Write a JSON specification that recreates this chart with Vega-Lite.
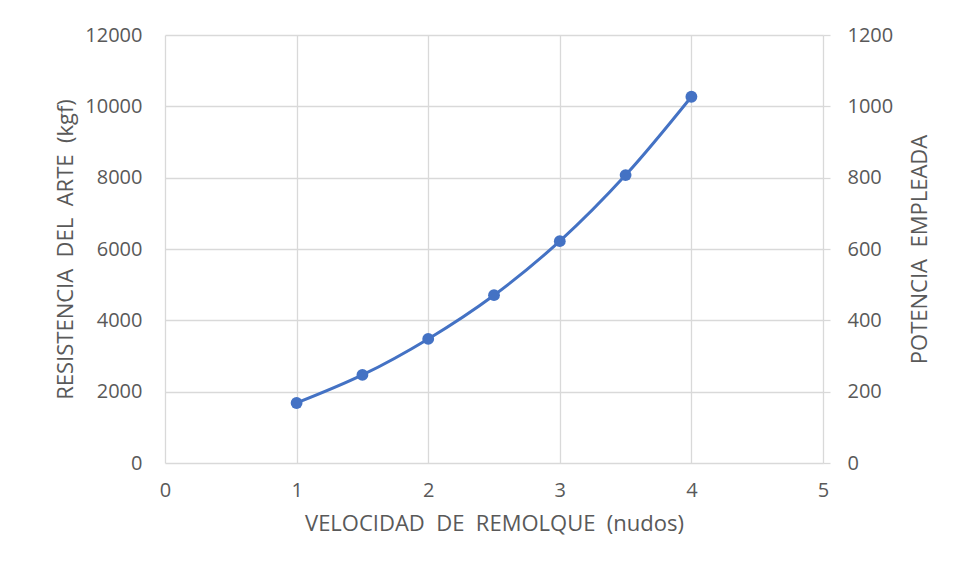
{
  "$schema": "https://vega.github.io/schema/vega-lite/v6.json",
  "autosize": "none",
  "width": 658,
  "height": 428,
  "padding": {"left": 165, "top": 35, "right": 133, "bottom": 114},
  "background": "white",
  "config": {
    "font": "Open Sans",
    "view": {"stroke": null},
    "axis": {
      "labelColor": "#595959",
      "titleColor": "#595959",
      "labelFontSize": 20,
      "titleFontSize": 22,
      "titleFontWeight": "normal",
      "labelFont": "Open Sans",
      "titleFont": "Open Sans",
      "gridColor": "#d9d9d9",
      "gridWidth": 1.3,
      "domain": false,
      "ticks": false
    }
  },
  "data": {
    "values": [
      {"velocidad": 1, "resistencia": 1683},
      {"velocidad": 1.5, "resistencia": 2469},
      {"velocidad": 2, "resistencia": 3479},
      {"velocidad": 2.5, "resistencia": 4705},
      {"velocidad": 3, "resistencia": 6220},
      {"velocidad": 3.5, "resistencia": 8072},
      {"velocidad": 4, "resistencia": 10269}
    ]
  },
  "layer": [
    {
      "encoding": {
        "x": {"field": "velocidad", "type": "quantitative", "scale": {"domain": [0, 5], "nice": false},
          "axis": {"title": "VELOCIDAD\u00a0 DE\u00a0 REMOLQUE\u00a0 (nudos)", "values": [0, 1, 2, 3, 4, 5], "format": "d", "labelFlush": false, "labelPadding": 17, "titlePadding": 13}},
        "y": {"field": "resistencia", "type": "quantitative", "scale": {"domain": [0, 12000], "nice": false},
          "axis": {"title": "RESISTENCIA\u00a0 DEL\u00a0 ARTE\u00a0 (kgf)", "values": [0, 2000, 4000, 6000, 8000, 10000, 12000], "format": "d", "labelFlush": false, "labelPadding": 23, "titlePadding": 7}}
      },
      "layer": [
        {"mark": {"type": "line", "interpolate": "catmull-rom", "color": "#4472C4", "strokeWidth": 3}},
        {"mark": {"type": "point", "filled": true, "size": 140, "color": "#4472C4", "opacity": 1}}
      ]
    },
    {
      "mark": {"type": "rule", "opacity": 0},
      "encoding": {
        "y": {"datum": 0, "type": "quantitative", "scale": {"domain": [0, 1200], "nice": false},
          "axis": {"orient": "right", "title": "POTENCIA\u00a0 EMPLEADA", "titleAngle": 270, "values": [0, 200, 400, 600, 800, 1000, 1200], "format": "d", "labelFlush": false, "grid": false, "ticks": true, "tickSize": 7, "tickColor": "#d9d9d9", "tickWidth": 1.3, "labelPadding": 17, "titlePadding": 39}}
      }
    }
  ],
  "resolve": {"scale": {"y": "independent"}}
}
